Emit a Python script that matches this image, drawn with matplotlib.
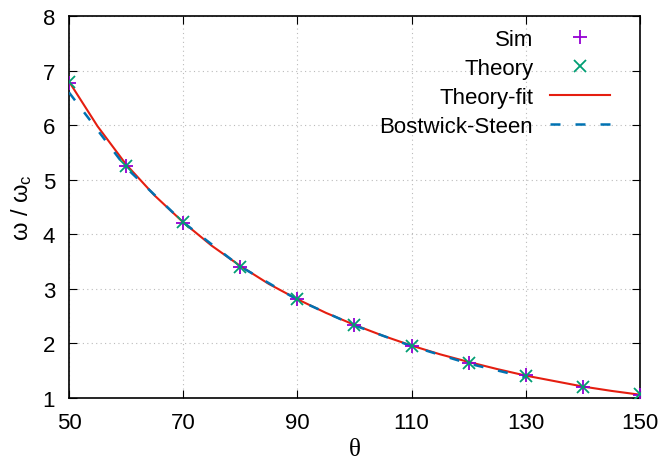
import matplotlib
matplotlib.use("Agg")
import matplotlib.pyplot as plt

plt.rcParams['font.family'] = ['Liberation Sans', 'DejaVu Sans']
plt.rcParams['mathtext.fontset'] = 'custom'
plt.rcParams['mathtext.rm'] = 'Liberation Sans'
plt.rcParams['mathtext.it'] = 'Liberation Sans:italic'

# Data
theta_pts = [50, 60, 70, 80, 90, 100, 110, 120, 130, 140, 150]
sim_vals = [6.78, 5.26, 4.21, 3.40, 2.81, 2.34, 1.96, 1.65, 1.42, 1.21, 1.06]
theory_vals = [6.79, 5.25, 4.22, 3.40, 2.81, 2.33, 1.96, 1.65, 1.41, 1.21, 1.07]

theta_fit = [50, 55, 60, 65, 70, 75, 80, 85, 90, 95, 100, 105, 110, 115, 120,
             125, 130, 135, 140, 145, 150]
fit_vals = [6.80, 5.98, 5.28, 4.71, 4.22, 3.79, 3.42, 3.09, 2.81, 2.56, 2.34,
            2.14, 1.96, 1.80, 1.66, 1.53, 1.41, 1.31, 1.21, 1.13, 1.06]

theta_bs = [50, 60, 70, 80, 90, 100, 110, 120, 130]
bs_vals = [6.60, 5.22, 4.22, 3.41, 2.80, 2.33, 1.95, 1.63, 1.38]

xticks = [50, 70, 90, 110, 130, 150]
yticks = [1, 2, 3, 4, 5, 6, 7, 8]

fig = plt.figure(figsize=(6.6, 4.64), dpi=100)
ax = fig.add_axes([0.1045, 0.1401, 0.8652, 0.8233])

ax.plot(theta_pts, sim_vals, linestyle='none', marker='+', color='#9400d3',
        markersize=10, markeredgewidth=1.3, label='Sim', zorder=4)
ax.plot(theta_pts, theory_vals, linestyle='none', marker='x', color='#009e73',
        markersize=9, markeredgewidth=1.3, label='Theory', zorder=4)
ax.plot(theta_fit, fit_vals, color='#e51e10', linewidth=1.5, label='Theory-fit', zorder=3)
ax.plot(theta_bs, bs_vals, color='#0072b2', linewidth=1.8, dashes=(4, 6),
        label='Bostwick-Steen', zorder=3)

ax.set_xlim(50, 150)
ax.set_ylim(1, 8)
ax.set_xticks(xticks)
ax.set_yticks(yticks)
ax.tick_params(direction='in', length=6, width=0.8, top=True, right=True,
               labelsize=16, pad=10, colors='black')
ax.grid(True, linestyle=(0, (1, 3)), color='#bbbbbb', linewidth=0.8)
for s in ax.spines.values():
    s.set_linewidth(1.2)

ax.set_xlabel('θ', fontsize=18, family=['Liberation Serif', 'DejaVu Serif'], labelpad=4)
ax.set_ylabel('ω / ω$_{\\mathrm{c}}$', fontsize=17, labelpad=6)

leg = ax.legend(loc='upper right', bbox_to_anchor=(0.955, 0.977), frameon=False,
                markerfirst=False, fontsize=16, handlelength=2.7,
                handletextpad=0.75, labelspacing=0.36, borderaxespad=0,
                borderpad=0.2)
leg._legend_box.align = 'right'

fig.savefig('out.png', dpi=100)
